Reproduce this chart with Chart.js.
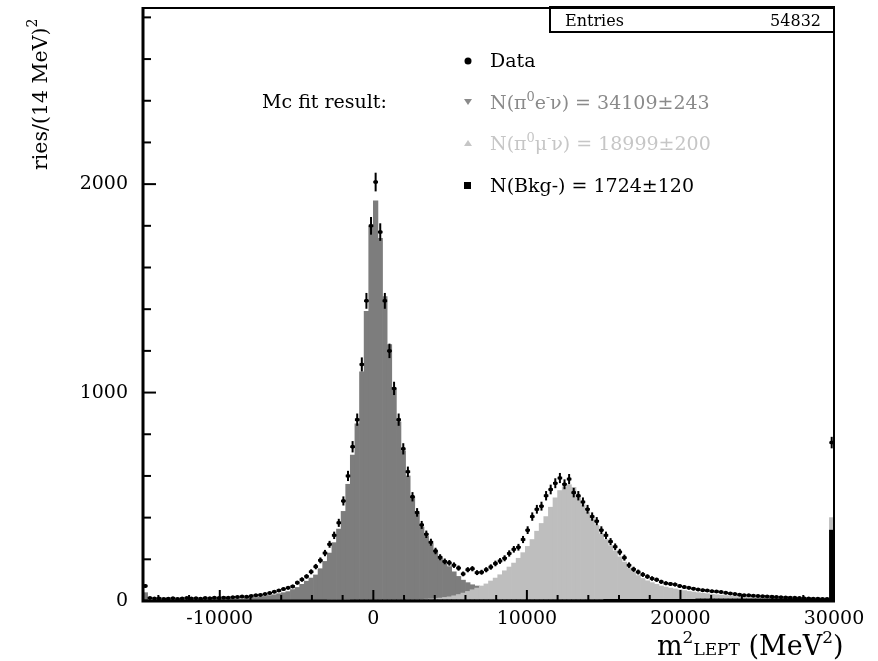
<!DOCTYPE html>
<html>
<head>
<meta charset="utf-8">
<script src="https://cdn.jsdelivr.net/npm/chart.js@4.4.1/dist/chart.umd.min.js"></script>
<style>
body { margin: 0; background: #fff; }
#plot { display: block; }
</style>
</head>
<body>
<canvas id="plot" width="878" height="661"></canvas>
<script>
// binning of the histogram (MeV^2)
var binLow = -15000;
var binWidth = 300;

var dataCounts = [
 72, 14, 12, 12, 10, 11, 13, 10, 12, 14,
 12, 13, 11, 14, 13, 15, 14, 16, 15, 18,
 19, 21, 20, 24, 27, 29, 33, 38, 44, 50,
 57, 63, 70, 88, 103, 118, 140, 165, 195, 230,
 272, 315, 375, 480, 600, 740, 870, 1135, 1440, 1800,
 2010, 1770, 1440, 1200, 1020, 870, 730, 620, 500, 425,
 365, 320, 282, 240, 210, 190, 183, 172, 158, 130,
 150, 155, 136, 138, 150, 163, 180, 192, 205, 228,
 248, 258, 295, 340, 405, 440, 455, 505, 535, 565,
 590, 560, 585, 520, 505, 475, 440, 405, 383, 340,
 315, 285, 260, 235, 208, 172, 152, 139, 127, 117,
 108, 102, 92, 85, 82, 79, 72, 67, 63, 59,
 55, 52, 50, 47, 45, 43, 39, 36, 33, 30,
 28, 27, 25, 24, 23, 22, 20, 19, 18, 17,
 16, 15, 14, 13, 12, 11, 11, 10, 10, 760
];

// MC pi0 e nu
var mcElectron = [
 35, 1, 1, 1, 2, 2, 2, 2, 3, 3,
 3, 3, 4, 4, 4, 5, 5, 5, 6, 6,
 7, 8, 10, 12, 14, 16, 19, 23, 27, 32,
 37, 42, 52, 62, 77, 92, 107, 122, 152, 187,
 224, 274, 339, 424, 554, 692, 842, 1092, 1382, 1792,
 1912, 1732, 1452, 1222, 1012, 852, 712, 592, 492, 412,
 347, 301, 265, 223, 191, 173, 145, 115, 87, 62,
 42, 24, 10, 0, 0, 0, 0, 0, 0, 0,
 0, 0, 0, 0, 0, 0, 0, 0, 0, 0,
 0, 0, 0, 0, 0, 0, 0, 0, 0, 0,
 0, 0, 0, 0, 0, 0, 0, 0, 0, 0,
 0, 0, 0, 0, 0, 0, 0, 0, 0, 0,
 0, 0, 0, 0, 0, 0, 0, 0, 0, 0,
 0, 0, 0, 0, 0, 0, 0, 0, 0, 0,
 0, 0, 0, 0, 0, 0, 0, 0, 0, 0
];

// MC pi0 mu nu
var mcMuon = [
 0, 0, 0, 0, 0, 0, 0, 0, 0, 0,
 0, 0, 0, 0, 0, 0, 0, 0, 0, 0,
 0, 0, 0, 0, 0, 0, 0, 0, 0, 0,
 0, 0, 0, 0, 0, 0, 0, 0, 0, 0,
 3, 3, 3, 3, 3, 3, 3, 3, 3, 3,
 3, 3, 3, 3, 3, 3, 3, 3, 3, 3,
 3, 4, 5, 7, 9, 12, 15, 20, 26, 33,
 41, 49, 57, 67, 77, 91, 105, 121, 140, 158,
 177, 200, 227, 257, 290, 330, 367, 400, 445, 490,
 525, 543, 553, 540, 500, 457, 423, 390, 357, 317,
 287, 257, 232, 204, 179, 152, 132, 114, 100, 89,
 80, 72, 64, 59, 54, 50, 46, 42, 38, 35,
 30, 27, 25, 22, 20, 18, 16, 14, 12, 11,
 10, 9, 8, 7, 6, 5, 4, 4, 3, 3,
 2, 2, 1, 1, 0, 0, 0, 0, 0, 60
];

// background
var mcBkg = [
 5, 3, 3, 3, 3, 3, 3, 3, 3, 3,
 3, 3, 3, 3, 3, 3, 3, 3, 3, 3,
 3, 3, 3, 3, 3, 3, 3, 3, 3, 3,
 3, 3, 3, 3, 3, 3, 3, 3, 3, 3,
 3, 3, 3, 3, 3, 5, 5, 5, 5, 5,
 5, 5, 5, 5, 5, 5, 5, 5, 5, 5,
 5, 5, 5, 5, 5, 5, 5, 5, 5, 5,
 5, 5, 5, 5, 5, 5, 5, 5, 5, 5,
 5, 5, 5, 5, 5, 5, 5, 5, 5, 5,
 5, 5, 5, 5, 5, 5, 5, 5, 5, 5,
 8, 8, 8, 8, 8, 8, 8, 8, 8, 8,
 8, 8, 8, 8, 8, 8, 8, 8, 8, 8,
 10, 10, 10, 10, 10, 10, 10, 10, 10, 10,
 10, 10, 10, 10, 10, 10, 10, 10, 10, 10,
 10, 10, 10, 10, 10, 10, 10, 10, 10, 340
];

var xMajorTicks = [-10000, 0, 10000, 20000, 30000];
var xMinorStep = 2000;
var yMajorTicks = [0, 1000, 2000];
var yMinorStep = 200;
var xRange = [-15000, 30000];
var yRange = [0, 2845];

var entries = 54832;

var serif = '"DejaVu Serif", serif';

var centers = dataCounts.map(function (v, i) { return binLow + binWidth * (i + 0.5); });

function toPoints(arr) {
	return arr.map(function (v, i) { return { x: centers[i], y: v > 0 ? v : null }; });
}

function tickList(lo, hi, step) {
	var out = [];
	for (var v = Math.ceil(lo / step) * step; v <= hi; v += step) {
		if (v !== lo) out.push({ value: v });
	}
	return out;
}

// draw a run of text pieces with their own size / raise
function drawRich(ctx, x, y, parts, color) {
	ctx.fillStyle = color;
	parts.forEach(function (p) {
		ctx.font = p.size + 'px ' + serif;
		ctx.fillText(p.text, x, y - (p.rise || 0));
		x += ctx.measureText(p.text).width;
	});
	return x;
}

var errorBars = {
	id: 'errorBars',
	afterDatasetsDraw: function (chart) {
		var ctx = chart.ctx, xs = chart.scales.x, ys = chart.scales.y;
		var a = chart.chartArea;
		ctx.save();
		ctx.beginPath();
		ctx.rect(a.left, a.top, a.right - a.left, a.bottom - a.top);
		ctx.clip();
		ctx.strokeStyle = '#000';
		dataCounts.forEach(function (v, i) {
			var c = centers[i];
			var err = Math.sqrt(v);
			var px = xs.getPixelForValue(c);
			var py = ys.getPixelForValue(v);
			ctx.lineWidth = 2;
			ctx.beginPath();
			ctx.moveTo(px, ys.getPixelForValue(v - err));
			ctx.lineTo(px, ys.getPixelForValue(v + err));
			ctx.stroke();
			ctx.lineWidth = 2.5;
			ctx.beginPath();
			ctx.moveTo(xs.getPixelForValue(c - binWidth / 2), py);
			ctx.lineTo(xs.getPixelForValue(c + binWidth / 2), py);
			ctx.stroke();
		});
		ctx.restore();
	}
};

var frame = {
	id: 'frame',
	afterDraw: function (chart) {
		var ctx = chart.ctx, a = chart.chartArea, xs = chart.scales.x, ys = chart.scales.y;
		ctx.save();
		ctx.strokeStyle = '#000';
		ctx.lineWidth = 2;
		ctx.beginPath();
		ctx.moveTo(a.left, a.top);
		ctx.lineTo(a.right, a.top);
		ctx.lineTo(a.right, a.bottom);
		ctx.stroke();
		ctx.lineWidth = 3;
		ctx.beginPath();
		ctx.moveTo(a.left, a.top - 1);
		ctx.lineTo(a.left, a.bottom);
		ctx.lineTo(a.right + 1, a.bottom);
		ctx.stroke();

		// ticks point into the frame
		ctx.lineWidth = 2;
		xs.ticks.forEach(function (t) {
			var px = xs.getPixelForValue(t.value);
			var len = xMajorTicks.indexOf(t.value) >= 0 ? 11 : 6;
			ctx.beginPath();
			ctx.moveTo(px, a.bottom);
			ctx.lineTo(px, a.bottom - len);
			ctx.stroke();
		});
		ys.ticks.forEach(function (t) {
			var py = ys.getPixelForValue(t.value);
			var len = yMajorTicks.indexOf(t.value) >= 0 ? 13 : 8;
			ctx.beginPath();
			ctx.moveTo(a.left, py);
			ctx.lineTo(a.left + len, py);
			ctx.stroke();
		});

		// stat box
		ctx.lineWidth = 2;
		ctx.strokeRect(550, 7, a.right - 550, 25);
		ctx.fillStyle = '#000';
		ctx.font = '16px ' + serif;
		ctx.textBaseline = 'alphabetic';
		ctx.textAlign = 'left';
		ctx.fillText('Entries', 565, 26);
		ctx.textAlign = 'right';
		ctx.fillText(String(entries), 821, 26);
		ctx.textAlign = 'left';

		// legend
		ctx.beginPath();
		ctx.arc(468, 61, 3.5, 0, Math.PI * 2);
		ctx.fill();
		drawRich(ctx, 490, 67, [{ text: 'Data', size: 19 }], '#000');

		ctx.fillStyle = '#8a8a8a';
		ctx.beginPath();
		ctx.moveTo(464, 99);
		ctx.lineTo(472, 99);
		ctx.lineTo(468, 105);
		ctx.closePath();
		ctx.fill();
		drawRich(ctx, 490, 109, [
			{ text: 'N(\u03c0', size: 19 },
			{ text: '0', size: 13, rise: 8 },
			{ text: 'e', size: 19 },
			{ text: '-', size: 12, rise: 8 },
			{ text: '\u03bd) = 34109\u00b1243', size: 19 }
		], '#8a8a8a');

		ctx.fillStyle = '#c6c6c6';
		ctx.beginPath();
		ctx.moveTo(464, 146);
		ctx.lineTo(472, 146);
		ctx.lineTo(468, 140);
		ctx.closePath();
		ctx.fill();
		drawRich(ctx, 490, 150, [
			{ text: 'N(\u03c0', size: 19 },
			{ text: '0', size: 13, rise: 8 },
			{ text: '\u03bc', size: 19 },
			{ text: '-', size: 12, rise: 8 },
			{ text: '\u03bd) = 18999\u00b1200', size: 19 }
		], '#c6c6c6');

		ctx.fillStyle = '#000';
		ctx.fillRect(464, 182, 7, 7);
		drawRich(ctx, 490, 192, [{ text: 'N(Bkg-) = 1724\u00b1120', size: 19 }], '#000');

		drawRich(ctx, 262, 108, [{ text: 'Mc fit result:', size: 19 }], '#000');

		// axis titles
		drawRich(ctx, 657, 655, [
			{ text: 'm', size: 27 },
			{ text: '2', size: 17, rise: 12 },
			{ text: 'LEPT', size: 17 },
			{ text: ' (MeV', size: 27 },
			{ text: '2', size: 17, rise: 12 },
			{ text: ')', size: 27 }
		], '#000');

		ctx.translate(47, 170);
		ctx.rotate(-Math.PI / 2);
		drawRich(ctx, 0, 0, [
			{ text: 'ries/(14 MeV)', size: 20.5 },
			{ text: '2', size: 14, rise: 10 }
		], '#000');
		ctx.restore();
	}
};

var chart = new Chart(document.getElementById('plot'), {
	type: 'bar',
	data: {
		datasets: [
			{
				type: 'line',
				label: 'Data',
				data: toPoints(dataCounts),
				showLine: false,
				pointRadius: 2,
				pointBorderWidth: 0,
				pointBackgroundColor: '#000',
				order: -1
			},
			{ label: 'Bkg', data: toPoints(mcBkg), backgroundColor: '#000000' },
			{ label: 'pi0 mu nu', data: toPoints(mcMuon), backgroundColor: '#bebebe' },
			{ label: 'pi0 e nu', data: toPoints(mcElectron), backgroundColor: '#7d7d7d' }
		]
	},
	options: {
		responsive: false,
		animation: false,
		layout: { padding: { top: 8, right: 44, left: 0, bottom: 0 } },
		datasets: {
			bar: { barPercentage: 1, categoryPercentage: 1, grouped: false, borderWidth: 0 }
		},
		plugins: {
			legend: { display: false },
			tooltip: { enabled: false }
		},
		scales: {
			x: {
				type: 'linear',
				min: xRange[0],
				max: xRange[1],
				offset: false,
				grid: { display: false, drawTicks: false },
				border: { display: false },
				afterBuildTicks: function (scale) { scale.ticks = tickList(xRange[0], xRange[1], xMinorStep); },
				afterFit: function (scale) {
					scale.height = 60;
					scale.paddingLeft = 0;
					scale.paddingRight = 0;
				},
				ticks: {
					autoSkip: false,
					maxRotation: 0,
					padding: 7,
					color: '#000',
					font: { family: serif, size: 19 },
					callback: function (v) { return xMajorTicks.indexOf(v) >= 0 ? String(v) : ''; }
				}
			},
			y: {
				stacked: true,
				min: yRange[0],
				max: yRange[1],
				grid: { display: false, drawTicks: false },
				border: { display: false },
				afterBuildTicks: function (scale) {
					scale.ticks = [{ value: 0 }].concat(tickList(yRange[0], yRange[1], yMinorStep));
				},
				afterFit: function (scale) {
					scale.width = 143;
					scale.paddingTop = 0;
					scale.paddingBottom = 0;
				},
				ticks: {
					autoSkip: false,
					padding: 15,
					color: '#000',
					font: { family: serif, size: 19 },
					callback: function (v) { return yMajorTicks.indexOf(v) >= 0 ? String(v) : ''; }
				}
			}
		}
	},
	plugins: [errorBars, frame]
});
</script>
</body>
</html>
